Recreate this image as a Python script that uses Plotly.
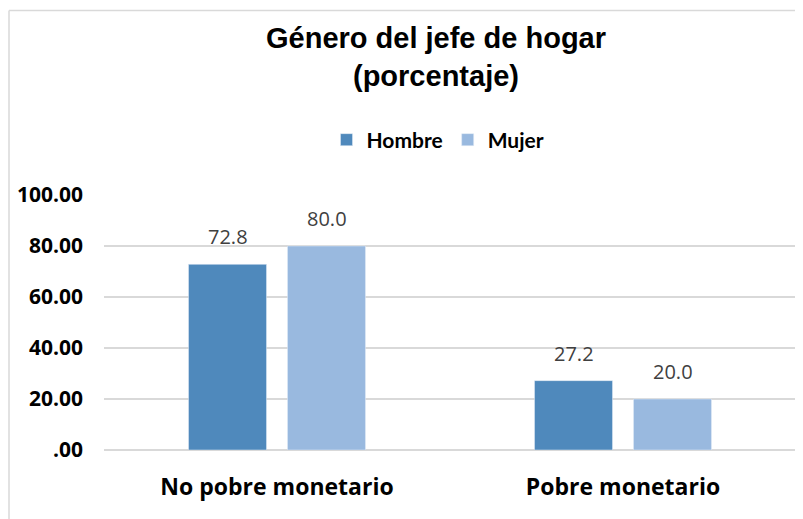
import plotly.graph_objects as go

# Chart data
categories = ['No pobre monetario', 'Pobre monetario']
hombre = [72.8, 27.2]
mujer = [80.0, 20.0]
y_tickvals = [0, 20, 40, 60, 80, 100]
y_ticktext = ['.00', '20.00', '40.00', '60.00', '80.00', '100.00']

# page body adds an 8px margin, so the figure is sized to fit the window
W, H = 795, 511
ML, MR, MT, MB = 96, 7, 187, 69
PW, PH = W - ML - MR, H - MT - MB

BAR_SHIFT = 49.5  # px from category centre to each bar centre
LABEL_FONT = dict(family='Open Sans, sans-serif', size=20, color='#404040')

fig = go.Figure()

fig.add_trace(go.Bar(x=categories, y=hombre, name='Hombre', marker_color='#4F89BC'))
fig.add_trace(go.Bar(x=categories, y=mujer, name='Mujer', marker_color='#99B9DF'))

# value labels above bars
for values, shift in [(hombre, -BAR_SHIFT), (mujer, BAR_SHIFT)]:
    for cat, v in zip(categories, values):
        fig.add_annotation(x=cat, y=v, text=f"{v:.1f}", showarrow=False,
                           xshift=shift, yshift=12, yanchor='bottom',
                           font=LABEL_FONT)

# outer chart border (left and top edges visible)
bx = (1 - ML) / PW
by = (H - MB - 2.5) / PH
fig.add_shape(type='line', xref='paper', yref='paper', x0=bx, x1=1.2, y0=by, y1=by,
              line=dict(color='#D9D9D9', width=1.5))
fig.add_shape(type='line', xref='paper', yref='paper', x0=bx, x1=bx, y0=by, y1=-0.5,
              line=dict(color='#D9D9D9', width=1.5))

fig.update_layout(
    width=W, height=H,
    margin=dict(l=ML, r=MR, t=MT, b=MB),
    paper_bgcolor='white', plot_bgcolor='white',
    barmode='group', bargap=0.428, bargroupgap=0.212,
    title=dict(
        text='<b>Género del jefe de hogar<br>(porcentaje)</b>',
        x=428 / W, xanchor='center', xref='container',
        y=1 - 40 / H, yanchor='top', yref='container',
        font=dict(family='Liberation Sans Narrow, Arial Narrow, Liberation Sans, sans-serif',
                  size=29, color='black')
    ),
    legend=dict(
        orientation='h', x=(430 - ML) / PW, xanchor='center',
        y=(H - MB - 132) / PH, yanchor='middle',
        font=dict(family='Lato, sans-serif', size=21, color='black', weight='bold'),
        itemwidth=30, traceorder='normal'
    ),
    showlegend=True,
)

fig.update_xaxes(
    showgrid=False, showline=False, ticks='',
    tickfont=dict(family='Open Sans, sans-serif', size=23, color='black', weight='bold'),
    ticklabelstandoff=21
)
fig.update_yaxes(
    range=[0, 100], tickvals=y_tickvals, ticktext=y_ticktext,
    showgrid=True, gridcolor='#D9D9D9', gridwidth=1.5,
    zeroline=True, zerolinecolor='#D9D9D9', zerolinewidth=1.5,
    showline=False, ticks='',
    tickfont=dict(family='Open Sans, sans-serif', size=21, color='black', weight='bold'),
    ticklabelstandoff=20
)

fig.write_html("out.html")
